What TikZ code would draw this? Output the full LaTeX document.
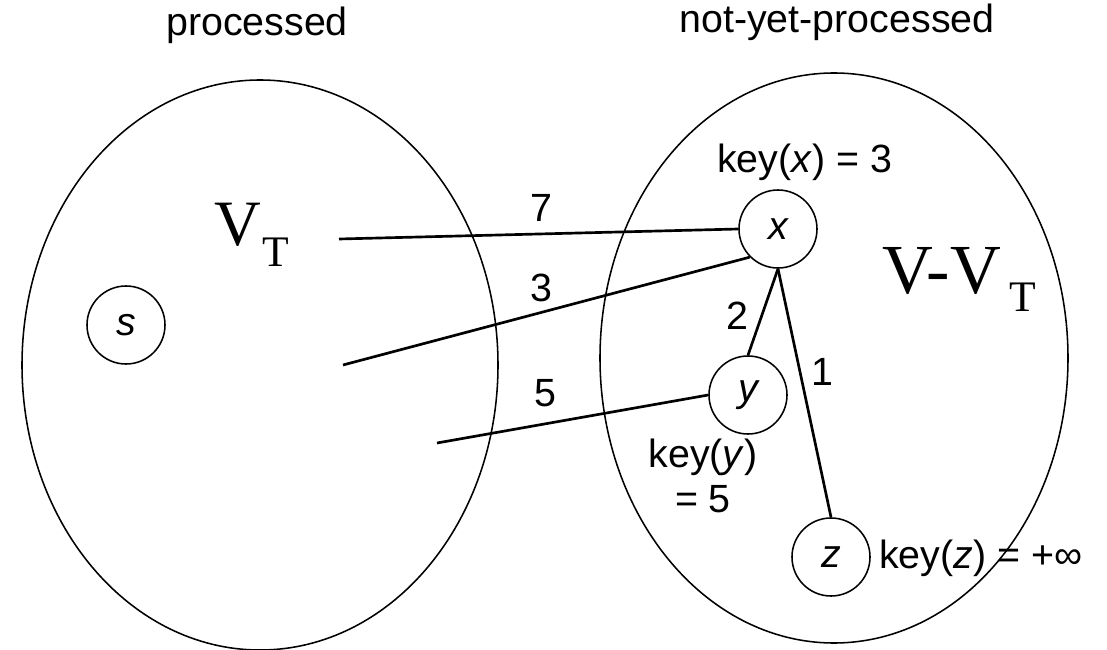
\documentclass[tikz,border=0pt]{standalone}
\usepackage{fontspec}
\setmainfont{Liberation Sans}
\newfontfamily\timesfont{Liberation Serif}
\usetikzlibrary{calc}

\tikzset{
  setline/.style={line width=1.1pt},
  vtx/.style={circle,draw,line width=1.1pt,minimum size=1.95cm,inner sep=0pt,
    font=\fontsize{28}{32}\selectfont\itshape},
  lbl/.style={inner sep=0pt,font=\fontsize{28}{32}\selectfont},
  wedge/.style={line width=1.9pt},
}

\begin{document}
\begin{tikzpicture}[x=0.025cm,y=-0.025cm]
\useasboundingbox (0,0) rectangle (1107,650);

\draw[setline] (260,365) ellipse [x radius=238,y radius=285];
\draw[setline] (834,358) ellipse [x radius=234,y radius=285];

\node[lbl] (proc) at (257,25) {processed};
\node[lbl] (notproc) at (837,22) {not-yet-processed};

\node[inner sep=0pt,anchor=base west] (VT) at (214,245)
  {\timesfont\fontsize{46}{50}\selectfont V\kern1pt\raisebox{-15pt}{\fontsize{31}{34}\selectfont T}};
\node[inner sep=0pt,anchor=base west] (VminusVT) at (882,293)
  {\timesfont\fontsize{50}{54}\selectfont V-V\kern6pt\raisebox{-13.5pt}{\fontsize{31}{34}\selectfont T}};

\node[vtx] (s) at (126,325) {s};
\node[vtx] (x) at (778,229) {x};
\node[vtx] (y) at (748,395) {y};
\node[vtx] (z) at (831,557) {z};

\coordinate (e7) at (339,239);
\coordinate (e3) at (343,365);
\coordinate (e5) at (437,443);

\draw[wedge] (e7) -- (x.west);
\draw[wedge] (e3) -- (x.south west);
\draw[wedge] (e5) -- (y.west);
\draw[wedge] (x.south) -- (y.north);
\draw[wedge] (x.south) -- (z.north);

\node[lbl] (w7) at (541,208) {7};
\node[lbl] (w3) at (541,288) {3};
\node[lbl] (w5) at (545,393) {5};
\node[lbl] (w2) at (737,316) {2};
\node[lbl] (w1) at (822,372) {1};

\node[lbl,anchor=base west] (keyx) at (717,172) {key(\textit{x}) = 3};
\node[lbl,anchor=base,align=center] (keyy) at (703,512) {key(\textit{y})\\= 5};
\node[lbl,anchor=base west] (keyz) at (879,568) {key(\textit{z}) = +∞};

\end{tikzpicture}
\end{document}
